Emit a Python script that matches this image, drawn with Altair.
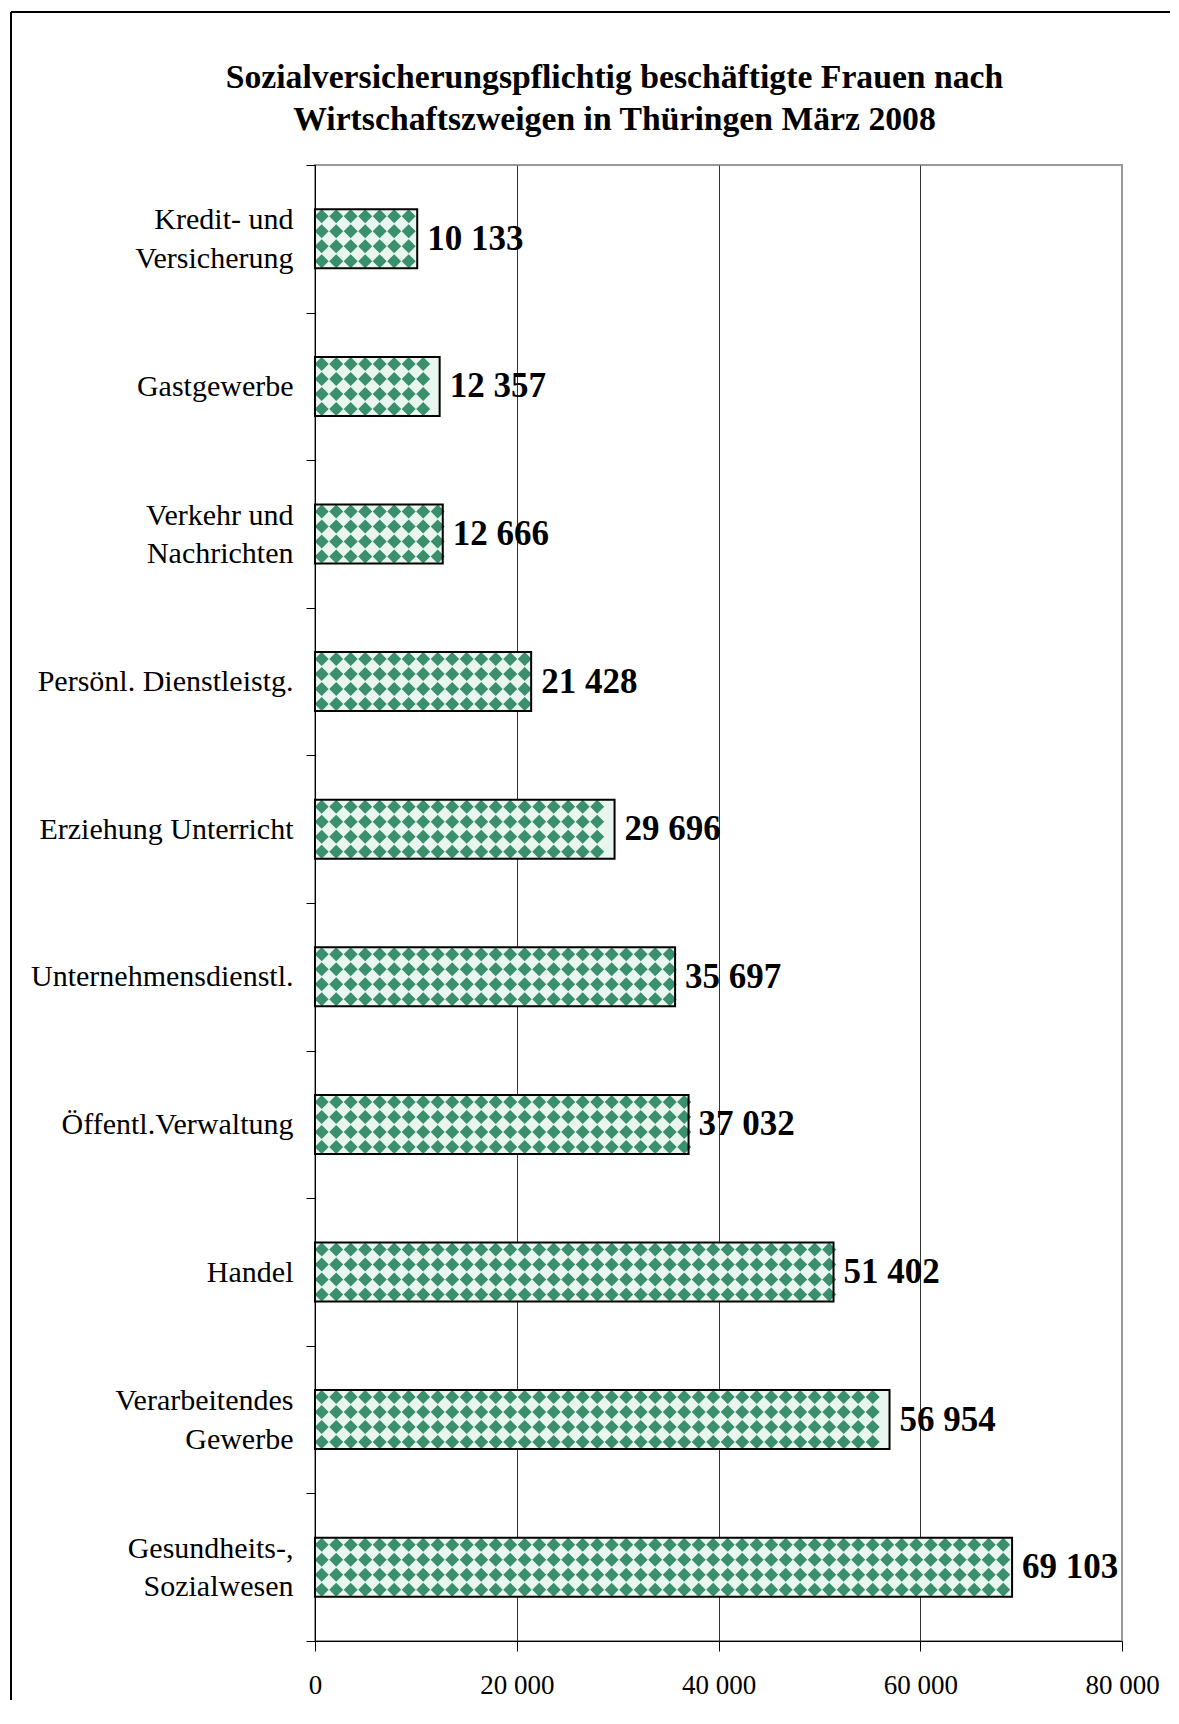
import altair as alt
import pandas as pd

# ---- data ----
categories = [
    "Kredit- und|Versicherung",
    "Gastgewerbe",
    "Verkehr und|Nachrichten",
    "Persönl. Dienstleistg.",
    "Erziehung Unterricht",
    "Unternehmensdienstl.",
    "Öffentl.Verwaltung",
    "Handel",
    "Verarbeitendes|Gewerbe",
    "Gesundheits-,|Sozialwesen",
]
values = [10133, 12357, 12666, 21428, 29696, 35697, 37032, 51402, 56954, 69103]
x_ticks = [0, 20000, 40000, 60000, 80000]
title_lines = [
    "Sozialversicherungspflichtig beschäftigte Frauen nach",
    "Wirtschaftszweigen in Thüringen März 2008",
]

# ---- layout / style ----
W, H = 807, 1476
BAR_H = 59
XMAX = 80000
FONT = "Liberation Serif"
LIGHT = "#e9f6ef"
DARK = "#3a8f6c"

df = pd.DataFrame({"cat": categories, "value": values})
df["label"] = [f"{v:,}".replace(",", " ") for v in values]

# diamond texture inside each bar: one column symbol (4 stacked diamonds)
unit = XMAX / W
col_step_px, col_start_px, half_px = 14.5, 6.7, 7
pat = []
for c, v in zip(categories, values):
    k = 0
    while col_start_px + k * col_step_px + half_px <= v / unit + 3:
        pat.append({"cat": c, "x": (col_start_px + k * col_step_px) * unit})
        k += 1
pat_df = pd.DataFrame(pat)


def diamond(cy, h):
    return f"M0,{cy - h}L{h},{cy}L0,{cy + h}L{-h},{cy}Z"


column_path = "".join(diamond(cy, half_px) for cy in (-22.5, -7.5, 7.5, 22.5))

yscale = alt.Scale(paddingInner=0, paddingOuter=0)
xscale = alt.Scale(domain=[0, XMAX], nice=False)

y_axis = alt.Axis(
    labelExpr="split(datum.label, '|')",
    labelFont=FONT, labelFontSize=30, labelColor="black", labelLineHeight=38.5,
    labelOffset={"condition": {"test": "indexof(datum.label, '|') >= 0", "value": -19}, "value": 0},
    labelPadding=13, tickSize=9, tickBand="extent", tickColor="black",
    domainColor="black", grid=False, title=None, labelLimit=0,
)
x_axis = alt.Axis(
    values=x_ticks,
    labelExpr="replace(format(datum.value, ','), ',', ' ')",
    labelFont=FONT, labelFontSize=27, labelColor="black", labelFlush=False,
    labelPadding=21, tickSize=10, tickColor="black", domainColor="black",
    grid=True,
    gridColor={"condition": {"test": "datum.value === 80000", "value": "#999999"}, "value": "#333333"},
    title=None,
)

base = alt.Chart(df)

bars = base.mark_bar(fill=LIGHT, strokeWidth=0, height=BAR_H).encode(
    x=alt.X("value:Q", scale=xscale, axis=x_axis),
    y=alt.Y("cat:N", sort=categories, scale=yscale, axis=y_axis),
)

pattern = alt.Chart(pat_df).mark_point(
    shape=column_path, filled=True, size=4, color=DARK, opacity=1, strokeWidth=0
).encode(
    x=alt.X("x:Q"),
    y=alt.Y("cat:N", sort=categories),
)

outline = base.mark_bar(
    fill=LIGHT, fillOpacity=0, stroke="black", strokeWidth=2, height=BAR_H
).encode(
    x=alt.X("value:Q"),
    y=alt.Y("cat:N", sort=categories),
)

labels = base.mark_text(
    align="left", baseline="middle", dx=10, font=FONT, fontSize=35,
    fontWeight="bold", color="black",
).encode(
    x=alt.X("value:Q"),
    y=alt.Y("cat:N", sort=categories),
    text="label:N",
)

frame_src = alt.Chart(pd.DataFrame({"a": [0]}))
frame_top = frame_src.mark_rule(color="black", strokeWidth=2).encode(
    x=alt.value(-304), x2=alt.value(855), y=alt.value(-153)
)
frame_left = frame_src.mark_rule(color="black", strokeWidth=2).encode(
    x=alt.value(-304), y=alt.value(-153), y2=alt.value(1535)
)

chart = alt.layer(bars, pattern, outline, labels, frame_top, frame_left).properties(
    width=W, height=H,
    padding={"left": 2, "top": 3, "right": 0, "bottom": 0},
    title=alt.TitleParams(
        text=title_lines, font=FONT, fontSize=33.7, fontWeight="bold", color="black",
        lineHeight=42, anchor="middle", frame="group", dx=-104, offset=-160,
        baseline="bottom",
    ),
).configure_view(stroke="#999999", strokeWidth=2)

chart.save("out.html", embed_options={"renderer": "svg", "actions": False})
